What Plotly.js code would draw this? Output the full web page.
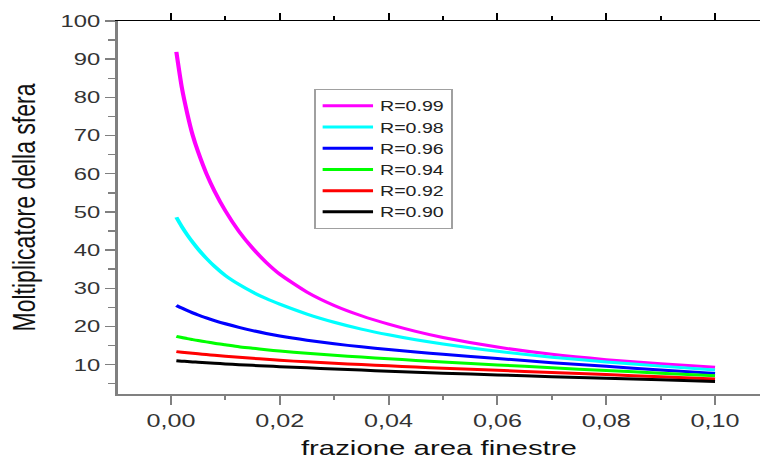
<!DOCTYPE html>
<html>
<head>
<meta charset="utf-8">
<script src="https://cdn.plot.ly/plotly-3.0.1.min.js"></script>
<style>
  html, body { margin: 0; padding: 0; background: #ffffff; overflow: hidden; }
  #wrap { width: 760px; height: 459px; overflow: hidden; }
  #chart { width: 543px; height: 459px; transform: scaleX(1.4); transform-origin: 0 0; }
</style>
</head>
<body>
<div id="wrap"><div id="chart"></div></div>
<script>
// window-area fraction (x values)
const fraction = [0.001, 0.002, 0.003, 0.004, 0.005, 0.0065, 0.008, 0.01, 0.0125, 0.015, 0.0175, 0.02,
                  0.025, 0.03, 0.035, 0.04, 0.045, 0.05, 0.06, 0.07, 0.08, 0.09, 0.1];

// sphere multiplier, one array per reflectance
const r099 = [91.9, 82.6, 75.8, 70.1, 65.7, 60.1, 55.5, 50.3, 44.9, 40.5, 36.8, 33.7,
              29.0, 25.5, 22.8, 20.6, 18.7, 17.1, 14.6, 12.7, 11.3, 10.2, 9.3];
const r098 = [48.6, 46.15, 44.0, 42.05, 40.25, 37.85, 35.75, 33.35, 31.0, 29.0, 27.3, 25.85,
              23.25, 21.1, 19.3, 17.8, 16.5, 15.4, 13.5, 11.95, 10.7, 9.6, 8.6];
const r096 = [25.5, 24.8, 24.15, 23.55, 23.0, 22.25, 21.55, 20.7, 19.75, 18.9, 18.15, 17.5,
              16.4, 15.45, 14.65, 13.95, 13.3, 12.7, 11.6, 10.5, 9.55, 8.6, 7.7];
const r094 = [17.4, 17.1, 16.8, 16.55, 16.3, 15.95, 15.6, 15.2, 14.7, 14.3, 13.9, 13.55,
              12.95, 12.45, 11.97, 11.52, 11.1, 10.7, 9.92, 9.17, 8.45, 7.75, 7.05];
const r092 = [13.4, 13.25, 13.1, 12.95, 12.82, 12.63, 12.45, 12.2, 11.92, 11.65, 11.38, 11.12,
              10.72, 10.35, 10.0, 9.67, 9.36, 9.06, 8.5, 7.95, 7.4, 6.82, 6.25];
const r090 = [11.0, 10.9, 10.8, 10.7, 10.61, 10.48, 10.35, 10.18, 9.98, 9.8, 9.63, 9.47,
              9.15, 8.85, 8.56, 8.28, 8.01, 7.75, 7.28, 6.85, 6.45, 6.02, 5.6];

const seriesNames = ["R=0.99", "R=0.98", "R=0.96", "R=0.94", "R=0.92", "R=0.90"];
const seriesValues = [r099, r098, r096, r094, r092, r090];
const seriesColors = ["#ff00ff", "#00ffff", "#0000ff", "#00ff00", "#ff0000", "#000000"];

const traces = seriesValues.map((vals, i) => ({
  type: "scatter",
  mode: "lines",
  x: fraction,
  y: vals,
  name: seriesNames[i],
  line: { color: seriesColors[i], width: 3, shape: "spline", smoothing: 0.6 }
}));
// empty trace that carries the top (mirror) axis
traces.push({ type: "scatter", mode: "lines", x: [], y: [], xaxis: "x2", yaxis: "y", showlegend: false, hoverinfo: "skip" });

const font = "Liberation Sans, Arial, sans-serif";

const layout = {
  width: 543,
  height: 459,
  margin: { l: 84, r: 0, t: 21, b: 65, pad: 0 },
  paper_bgcolor: "#ffffff",
  plot_bgcolor: "#ffffff",
  separators: ",.",
  font: { family: font, color: "#222222" },
  showlegend: true,
  legend: {
    x: 0.306, y: 0.817, xanchor: "left", yanchor: "top",
    bgcolor: "#ffffff", bordercolor: "#a0a0a0", borderwidth: 1,
    font: { family: font, size: 14, color: "#222222" },
    itemwidth: 36,
    tracegroupgap: 0
  },
  xaxis: {
    range: [-0.0098, 0.1083],
    tick0: 0, dtick: 0.02, tickformat: ".2f",
    ticks: "outside", ticklen: 9, tickwidth: 1.5, tickcolor: "#808080",
    minor: { dtick: 0.01, ticks: "outside", ticklen: 4, tickwidth: 1.5, tickcolor: "#808080", showgrid: false },
    showline: true, linecolor: "#808080", linewidth: 2,
    showgrid: false, zeroline: false,
    tickfont: { family: font, size: 18, color: "#333333" },
    title: { text: "frazione area finestre", font: { family: font, size: 21, color: "#111111" }, standoff: 14 }
  },
  xaxis2: {
    matches: "x", overlaying: "x", side: "top", anchor: "y",
    range: [-0.0098, 0.1083],
    tick0: 0, dtick: 0.02,
    ticks: "outside", ticklen: 7, tickwidth: 1.5, tickcolor: "#000000",
    minor: { dtick: 0.01, ticks: "outside", ticklen: 4, tickwidth: 1.5, tickcolor: "#000000", showgrid: false },
    showline: true, linecolor: "#000000", linewidth: 1.5,
    showticklabels: false, showgrid: false, zeroline: false
  },
  yaxis: {
    range: [2.3, 100],
    tick0: 0, dtick: 10, tickformat: "d",
    ticks: "outside", ticklen: 7, tickwidth: 1.5, tickcolor: "#808080",
    minor: { dtick: 5, ticks: "outside", ticklen: 5, tickwidth: 1.5, tickcolor: "#808080", showgrid: false },
    showline: true, linecolor: "#808080", linewidth: 2,
    showgrid: false, zeroline: false,
    tickfont: { family: font, size: 17, color: "#333333" },
    title: { text: "Moltiplicatore della sfera", font: { family: font, size: 23, color: "#111111" }, standoff: 11 }
  }
};

Plotly.newPlot("chart", traces, layout, { displayModeBar: false, staticPlot: true });
</script>
</body>
</html>
